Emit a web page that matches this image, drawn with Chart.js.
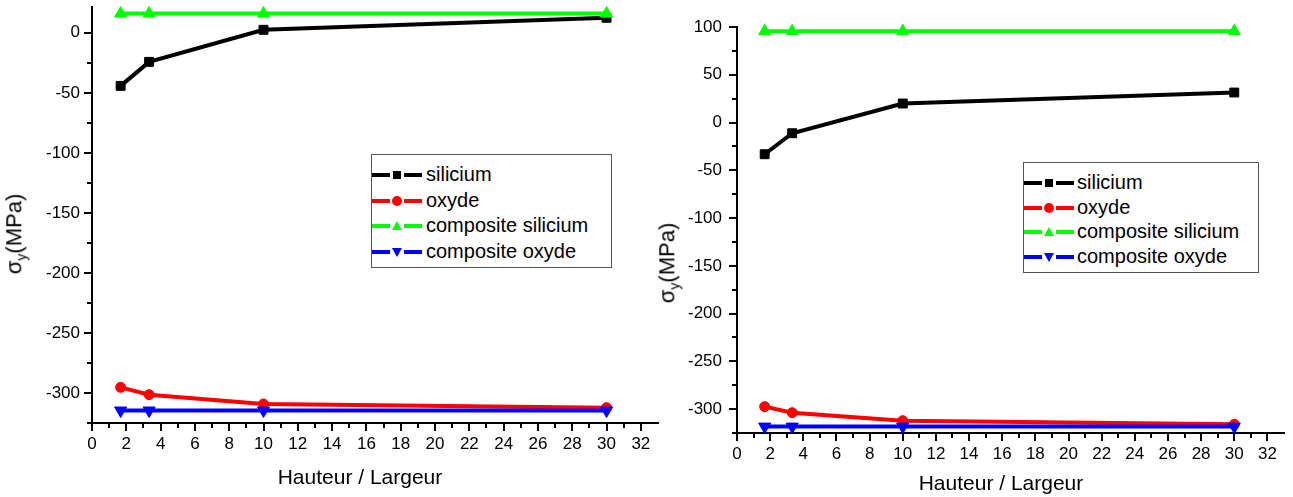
<!DOCTYPE html>
<html><head><meta charset="utf-8">
<script src="https://cdn.jsdelivr.net/npm/chart.js@4.4.1/dist/chart.umd.min.js"></script>
<style>
html,body{margin:0;padding:0;background:#fff;width:1293px;height:497px;overflow:hidden;font-family:"Liberation Sans",Arial,sans-serif;}
.wrap{position:absolute;top:0;}
canvas{display:block;}
.legend{position:absolute;border:1px solid #555;background:#fff;box-sizing:border-box;}
.sample{position:absolute;width:50px;height:12px;}
.seg{position:absolute;top:4px;height:4px;}
.mk{position:absolute;}
.lbl{position:absolute;font-size:20px;line-height:24px;color:#000;white-space:nowrap;}
.title{position:absolute;font-size:21px;line-height:24px;color:#000;white-space:nowrap;transform:translate(-50%,-50%);}
.title.rot{font-size:22px;transform:translate(-50%,-50%) rotate(-90deg);}
.title sub{font-size:14px;}
</style></head>
<body>
<div class="wrap" style="left:0;width:660px;height:497px;"><canvas id="c1" width="660" height="497"></canvas></div>
<div class="wrap" style="left:660px;width:633px;height:497px;"><canvas id="c2" width="633" height="497"></canvas></div>
<div class="title rot" style="left:18px;top:234px;">σ<sub>y</sub>(MPa)</div>
<div class="title rot" style="left:671px;top:263px;">σ<sub>y</sub>(MPa)</div>
<div class="title" style="left:360px;top:477px;">Hauteur / Largeur</div>
<div class="title" style="left:1001px;top:483px;">Hauteur / Largeur</div>
<div id="leg1" class="legend" style="left:371px;top:154px;width:241px;height:114px;"></div>
<div id="leg2" class="legend" style="left:1023px;top:162px;width:236px;height:111px;"></div>
<script>
// ---- data ----
const seriesNames = ['silicium', 'oxyde', 'composite silicium', 'composite oxyde'];
const xValues = [1.67, 3.33, 10, 30];

const leftSilicium = [-44.2, -24.2, 2.5, 12.5];
const leftOxyde = [-295.3, -301.4, -309.2, -312.2];
const leftCompositeSilicium = [16, 16, 16, 16];
const leftCompositeOxyde = [-314.6, -314.6, -314.6, -314.6];

const rightSilicium = [-33.2, -11.2, 19.9, 31.4];
const rightOxyde = [-297.4, -303.7, -312.1, -315.8];
const rightCompositeSilicium = [95.6, 95.6, 95.6, 95.6];
const rightCompositeOxyde = [-318.3, -318.3, -318.3, -318.3];

const xTickValues = [0, 2, 4, 6, 8, 10, 12, 14, 16, 18, 20, 22, 24, 26, 28, 30, 32];
const xMinorValues = [1, 3, 5, 7, 9, 11, 13, 15, 17, 19, 21, 23, 25, 27, 29, 31];
const leftYTicks = [-300, -250, -200, -150, -100, -50, 0];
const leftYMinor = [-325, -275, -225, -175, -125, -75, -25];
const rightYTicks = [-300, -250, -200, -150, -100, -50, 0, 50, 100];
const rightYMinor = [-325, -275, -225, -175, -125, -75, -25, 25, 75];

// ---- styles ----
const colors = ['#000000', '#ff0000', '#00ff00', '#0000ff'];
const pointStyles = ['rect', 'circle', 'triangle', 'triangle'];
const pointRotations = [0, 0, 0, 180];
const pointRadii = [6.3, 5, 7, 7];

const minorTicks = {
  id: 'minorTicks',
  afterDraw(chart, args, opts) {
    const ctx = chart.ctx, ca = chart.chartArea;
    const xs = chart.scales.x, ys = chart.scales.y;
    ctx.save();
    ctx.strokeStyle = '#000';
    ctx.lineWidth = 2;
    opts.x.forEach(v => {
      const px = Math.round(xs.getPixelForValue(v));
      ctx.beginPath(); ctx.moveTo(px, ca.bottom); ctx.lineTo(px, ca.bottom + 5); ctx.stroke();
    });
    opts.y.forEach(v => {
      const py = Math.round(ys.getPixelForValue(v));
      ctx.beginPath(); ctx.moveTo(ca.left, py); ctx.lineTo(ca.left - 5, py); ctx.stroke();
    });
    ctx.restore();
  }
};

function makeChart(id, series, yMin, yMax, yTicks, yMinor, yWidth, xHeight, padTop, padRight, labelPad) {
  const datasets = series.map((vals, i) => ({
    label: seriesNames[i],
    data: xValues.map((x, j) => ({ x: x, y: vals[j] })),
    borderColor: colors[i],
    backgroundColor: colors[i],
    borderWidth: 4,
    pointStyle: pointStyles[i],
    rotation: pointRotations[i],
    pointRadius: pointRadii[i],
    pointHoverRadius: pointRadii[i],
    pointBorderWidth: 1,
    pointBorderColor: colors[i],
    pointBackgroundColor: colors[i],
    tension: 0,
    clip: false,
    order: 3 - i
  }));
  const font = { family: "'Liberation Sans', Arial, sans-serif", size: 17 };
  return new Chart(document.getElementById(id), {
    type: 'line',
    data: { datasets },
    options: {
      responsive: false,
      animation: false,
      devicePixelRatio: 1,
      layout: { autoPadding: false, padding: { top: padTop, right: padRight, left: 0, bottom: 0 } },
      plugins: { legend: { display: false }, tooltip: { enabled: false }, minorTicks: { x: xMinorValues, y: yMinor } },
      scales: {
        x: {
          type: 'linear', min: 0, max: 33, position: 'bottom',
          afterBuildTicks: s => { s.ticks = xTickValues.map(v => ({ value: v })); },
          afterFit: s => { s.height = xHeight; s.paddingLeft = 0; s.paddingRight = 0; },
          ticks: { color: '#000', font, padding: 3, maxRotation: 0, autoSkip: false },
          grid: { drawOnChartArea: false, drawTicks: true, tickLength: 8, color: '#000', lineWidth: 2 },
          border: { display: true, color: '#000', width: 2 }
        },
        y: {
          type: 'linear', min: yMin, max: yMax, position: 'left',
          afterBuildTicks: s => { s.ticks = yTicks.map(v => ({ value: v })); },
          afterFit: s => { s.width = yWidth; s.paddingTop = 0; s.paddingBottom = 0; },
          ticks: { color: '#000', font, padding: labelPad, autoSkip: false },
          grid: { drawOnChartArea: false, drawTicks: true, tickLength: 8, color: '#000', lineWidth: 2 },
          border: { display: true, color: '#000', width: 2 }
        }
      }
    },
    plugins: [minorTicks]
  });
}

makeChart('c1', [leftSilicium, leftOxyde, leftCompositeSilicium, leftCompositeOxyde], -325, 21.5, leftYTicks, leftYMinor, 92, 74, 7, 2, 4);
makeChart('c2', [rightSilicium, rightOxyde, rightCompositeSilicium, rightCompositeOxyde], -325, 100, rightYTicks, rightYMinor, 77, 64, 27, 9, 7);

// ---- legends (HTML) ----
function marker(i) {
  const c = colors[i];
  if (pointStyles[i] === 'rect') return `<div class="mk" style="left:21px;top:2px;width:8px;height:8px;background:${c}"></div>`;
  if (pointStyles[i] === 'circle') return `<div class="mk" style="left:20px;top:1px;width:10px;height:10px;border-radius:50%;background:${c}"></div>`;
  if (pointRotations[i] === 0) return `<div class="mk" style="left:20px;top:1px;width:0;height:0;border-left:5px solid transparent;border-right:5px solid transparent;border-bottom:9px solid ${c}"></div>`;
  return `<div class="mk" style="left:20px;top:2px;width:0;height:0;border-left:5px solid transparent;border-right:5px solid transparent;border-top:9px solid ${c}"></div>`;
}
function buildLegend(id, rowStart, rowStep, sampleLeft, textLeft) {
  const el = document.getElementById(id);
  let html = '';
  seriesNames.forEach((name, i) => {
    const cy = rowStart + i * rowStep;
    html += `<div class="sample" style="left:${sampleLeft}px;top:${cy - 6}px">` +
      `<div class="seg" style="left:0;width:18px;background:${colors[i]}"></div>` +
      `<div class="seg" style="left:32px;width:18px;background:${colors[i]}"></div>` +
      marker(i) + `</div>`;
    html += `<div class="lbl" style="left:${textLeft}px;top:${cy - 13}px">${name}</div>`;
  });
  el.innerHTML = html;
}
buildLegend('leg1', 20, 25.6, 0, 54);
buildLegend('leg2', 20, 24.5, 0, 53);
</script>
</body></html>
